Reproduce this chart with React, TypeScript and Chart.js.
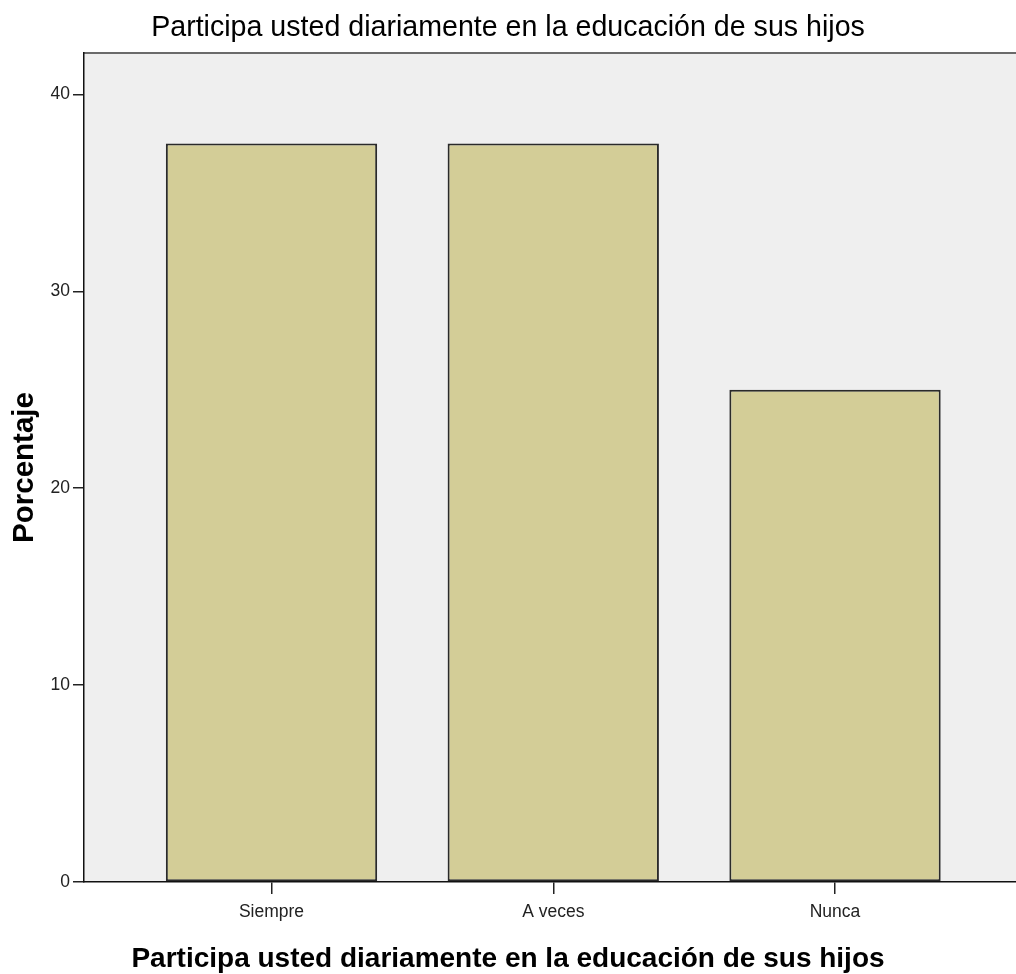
import React, { useEffect, useRef } from "react";
import { Chart, registerables } from "chart.js";

Chart.register(...registerables);

const categories = ["Siempre", "A veces", "Nunca"];
const percentages = [37.5, 37.5, 25.0];
const yTickValues = [0, 10, 20, 30, 40];
const chartTitle = "Participa usted diariamente en la educación de sus hijos";
const xAxisTitle = "Participa usted diariamente en la educación de sus hijos";
const yAxisTitle = "Porcentaje";

const FONT = '"Liberation Sans", Arial, sans-serif';

const plotBg = {
  id: "plotBg",
  beforeDraw(chart: any) {
    const { ctx, chartArea } = chart;
    ctx.save();
    ctx.fillStyle = "#efefef";
    ctx.fillRect(chartArea.left, chartArea.top, chartArea.right - chartArea.left, chartArea.bottom - chartArea.top);
    ctx.strokeStyle = "#6a6a6a";
    ctx.lineWidth = 2;
    ctx.beginPath();
    ctx.moveTo(chartArea.left, chartArea.top);
    ctx.lineTo(chartArea.right, chartArea.top);
    ctx.stroke();
    ctx.restore();
  },
};

const bottomTitle = {
  id: "bottomTitle",
  afterDraw(chart: any) {
    const { ctx, width } = chart;
    ctx.save();
    ctx.fillStyle = "#000";
    ctx.font = `bold 28px ${FONT}`;
    ctx.textAlign = "center";
    ctx.textBaseline = "alphabetic";
    ctx.fillText(xAxisTitle, width / 2, 967);
    ctx.restore();
  },
};

export default function App() {
  const ref = useRef<HTMLCanvasElement>(null);

  useEffect(() => {
    document.body.style.margin = "0";
    const canvas = ref.current;
    if (!canvas) return;
    const chart = new Chart(canvas, {
      type: "bar",
      data: {
        datasets: [
          {
            data: categories.map((c, i) => ({ x: i + 1, y: percentages[i] })),
            backgroundColor: "#d3cd97",
            borderColor: "#2a2a2a",
            borderWidth: 2,
            borderSkipped: false,
            categoryPercentage: 1,
            barPercentage: 0.75,
          },
        ],
      },
      options: {
        animation: false,
        responsive: false,
        devicePixelRatio: 1,
        layout: { padding: 0 },
        plugins: {
          legend: { display: false },
          tooltip: { enabled: false },
          title: {
            display: true,
            text: chartTitle,
            color: "#000",
            font: { family: FONT, size: 28.6, weight: "normal" },
            padding: { top: 10.8, bottom: 7.9 },
          },
        },
        scales: {
          x: {
            type: "linear",
            offset: false,
            min: 0.3345,
            max: 3.6423,
            afterBuildTicks: (scale: any) => {
              scale.ticks = categories.map((_, i) => ({ value: i + 1 }));
            },
            afterFit: (scale: any) => {
              scale.height = 92;
            },
            ticks: {
              callback: (v: any) => categories[Math.round(v) - 1] ?? "",
              color: "#222",
              font: { family: FONT, size: 17.5 },
              padding: 8,
              maxRotation: 0,
              autoSkip: false,
            },
            grid: { offset: false, drawOnChartArea: false, tickLength: 12, color: "#222", lineWidth: 1.5 },
            border: { display: true, color: "#111", width: 1.5 },
            title: { display: false },
          },
          y: {
            min: 0,
            max: 42.1,
            afterBuildTicks: (scale: any) => {
              scale.ticks = yTickValues.map((v) => ({ value: v }));
            },
            afterFit: (scale: any) => {
              scale.width = 84;
            },
            ticks: {
              color: "#222",
              font: { family: FONT, size: 17.5 },
              padding: 3,
            },
            grid: { drawOnChartArea: false, tickLength: 11, color: "#222", lineWidth: 1.5 },
            border: { display: true, color: "#111", width: 1.5 },
            title: {
              display: true,
              text: yAxisTitle,
              color: "#000",
              font: { family: FONT, size: 29.5, weight: "bold" },
              padding: { top: 7, bottom: 0 },
            },
          },
        },
      },
      plugins: [plotBg, bottomTitle],
    } as any);
    return () => chart.destroy();
  }, []);

  return (
    <div style={{ width: 1016, height: 974 }}>
      <canvas ref={ref} width={1016} height={974} style={{ display: "block", width: 1016, height: 974 }} />
    </div>
  );
}
